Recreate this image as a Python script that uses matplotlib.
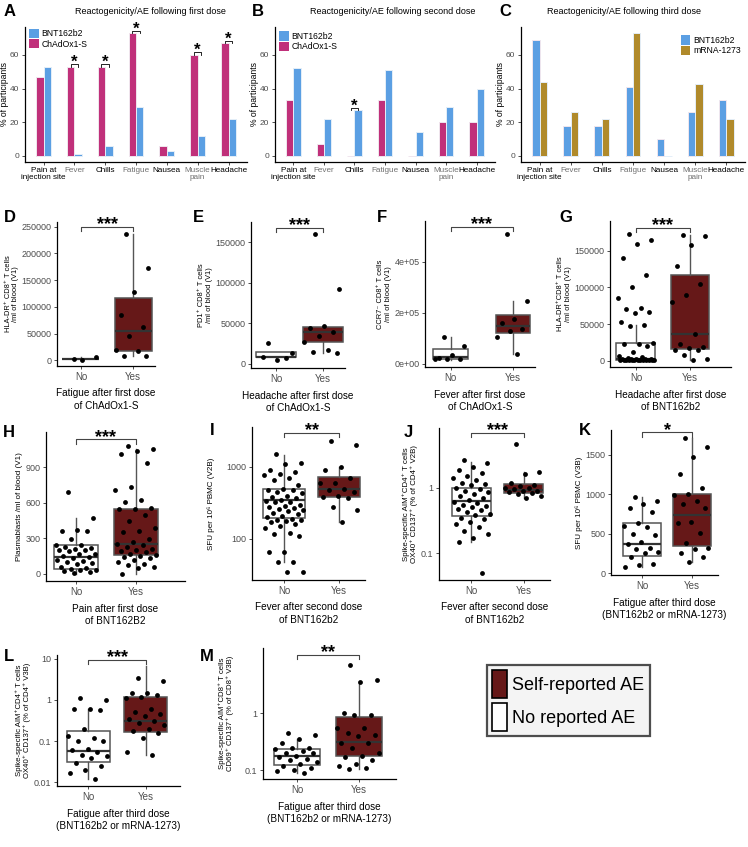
import numpy as np
import matplotlib.pyplot as plt
from matplotlib.patches import Patch

W, H = 748, 847

# ---- top row: reactogenicity bars (% of participants) ----
symptoms = ['Pain at\ninjection site', 'Fever', 'Chills', 'Fatigue', 'Nausea', 'Muscle\npain', 'Headache']
dose1_chad = [47, 53, 53, 73, 6, 60, 67]
dose1_bnt = [53, 1, 6, 29, 3, 12, 22]
dose1_sig = [0, 1, 1, 1, 0, 1, 1]
dose2_chad = [33, 7, 0, 33, 0, 20, 20]
dose2_bnt = [52, 22, 27, 51, 14, 29, 40]
dose2_sig = [0, 0, 1, 0, 0, 0, 0]
dose3_bnt = [69, 18, 18, 41, 10, 26, 33]
dose3_mrna = [44, 26, 22, 73, 0, 43, 22]

# ---- box panels: jittered points and box stats [lo, q1, med, q3, hi] ----
d_no = [2000, 7000, 1000]
d_yes = [236000, 173000, 127000, 85000, 62000, 45000, 20000, 18000, 8000, 8000]
d_box = [[1000, 2000, 2500, 3000, 7000], [8000, 18000, 54000, 117000, 236000]]

e_no = [26000, 14000, 5000, 8000, 7500]
e_yes = [160000, 92000, 47000, 44000, 40000, 34000, 27000, 17000, 15000, 13000]
e_box = [[5000, 8000, 8500, 14500, 14500], [13000, 27000, 39000, 46000, 47000]]

f_no = [105000, 70000, 35000, 25000, 20000, 18000, 18000]
f_yes = [510000, 245000, 178000, 160000, 138000, 128000, 107000, 40000]
f_box = [[15000, 18000, 28000, 60000, 105000], [40000, 120000, 148000, 193000, 245000]]

g_no = [173000, 165000, 160000, 141000, 117000, 100000, 86000, 72000, 70000, 67000,
        65000, 53000, 49000, 47000, 24000, 22000, 22000, 20000, 12000, 6000, 5000, 4000,
        2500, 2000, 2000, 1500, 1500, 1200, 1000, 1000, 800, 800, 600, 500, 500, 400,
        300, 300, 200, 100]
g_yes = [172000, 170000, 158000, 129000, 105000, 90000, 80000, 36000, 22000, 18000,
         17000, 15000, 14000, 8000, 2000, 1000]
g_box = [[0, 1000, 2500, 24000, 49000], [1000, 16000, 36000, 117000, 172000]]

h_no = [690, 475, 370, 365, 360, 290, 240, 240, 230, 220, 210, 200, 200, 190, 170,
        170, 150, 140, 130, 120, 110, 100, 90, 80, 60, 50, 40, 30, 30, 20, 10, 5]
h_yes = [1080, 1060, 1040, 1010, 935, 730, 710, 620, 610, 560, 550, 545, 500, 450,
         390, 360, 350, 290, 270, 250, 240, 230, 210, 200, 190, 180, 170, 160, 150,
         140, 130, 120, 100, 80, 70, 60, 50, 0]
h_box = [[0, 40, 145, 240, 475], [0, 160, 250, 545, 1060]]

i_no = [1500, 1150, 1100, 900, 850, 800, 780, 700, 650, 560, 500, 480, 470, 450, 430,
        400, 380, 370, 350, 340, 330, 320, 300, 290, 280, 270, 260, 250, 240, 230, 220,
        210, 200, 190, 185, 180, 175, 170, 160, 150, 140, 120, 115, 110, 65, 65, 48, 48,
        34, 34]
i_yes = [2300, 2050, 1000, 900, 700, 600, 590, 500, 480, 450, 400, 380, 370, 280, 250, 170]
i_box = [[48, 195, 345, 490, 1450], [170, 380, 500, 720, 1000]]

j_no = [2.7, 2.4, 2.1, 1.9, 1.7, 1.5, 1.4, 1.3, 1.2, 1.15, 1.1, 1.0, 0.95, 0.9, 0.85,
        0.8, 0.75, 0.7, 0.65, 0.6, 0.58, 0.55, 0.52, 0.5, 0.48, 0.45, 0.42, 0.4, 0.38,
        0.35, 0.33, 0.3, 0.28, 0.25, 0.22, 0.2, 0.17, 0.15, 0.05]
j_yes = [4.6, 1.75, 1.65, 1.2, 1.1, 1.05, 1.0, 0.98, 0.95, 0.9, 0.88, 0.85, 0.82, 0.8, 0.75, 0.7]
j_box = [[0.15, 0.37, 0.62, 0.98, 2.5], [0.7, 0.83, 0.93, 1.15, 1.75]]

k_no = [960, 920, 880, 830, 780, 640, 600, 580, 500, 480, 400, 370, 320, 300, 270,
        250, 200, 120, 100, 80]
k_yes = [1710, 1600, 1470, 1260, 1080, 1000, 990, 910, 880, 820, 650, 630, 510, 380,
         320, 300, 250, 200, 140]
k_box = [[80, 220, 370, 630, 960], [140, 340, 740, 1010, 1710]]

l_no = [1.1, 1.0, 0.6, 0.6, 0.58, 0.2, 0.13, 0.12, 0.1, 0.1, 0.065, 0.06, 0.055, 0.045,
        0.044, 0.04, 0.03, 0.025, 0.02, 0.017, 0.012]
l_yes = [3.4, 2.9, 1.5, 1.45, 1.3, 1.15, 1.1, 0.6, 0.5, 0.45, 0.4, 0.35, 0.3, 0.28,
         0.25, 0.2, 0.18, 0.16, 0.12, 0.055, 0.045]
l_box = [[0.012, 0.032, 0.058, 0.18, 0.6], [0.045, 0.17, 0.3, 1.2, 6.5]]

m_no = [0.45, 0.42, 0.35, 0.3, 0.25, 0.25, 0.24, 0.22, 0.2, 0.2, 0.18, 0.17, 0.16,
        0.15, 0.14, 0.13, 0.12, 0.11, 0.1, 0.095, 0.09]
m_yes = [7.0, 3.8, 3.6, 1.0, 0.95, 0.95, 0.55, 0.55, 0.45, 0.42, 0.4, 0.3, 0.3, 0.25,
         0.2, 0.18, 0.17, 0.15, 0.13, 0.12, 0.11, 0.105]
m_box = [[0.09, 0.125, 0.175, 0.24, 0.35], [0.105, 0.18, 0.31, 0.85, 3.6]]

MAG = '#C0307A'
BLUE = '#5B9FE3'
GOLD = '#B08A2B'
AE_RED = '#661818'
TICKC = '#4D4D4D'

plt.rcParams['font.family'] = ['Liberation Sans', 'DejaVu Sans']

fig = plt.figure(figsize=(W / 100, H / 100), dpi=100)


def px_axes(l, t, r, b):
    return fig.add_axes([l / W, 1 - b / H, (r - l) / W, (b - t) / H])


def letter(x, y, s):
    fig.text(x / W, 1 - y / H, s, fontsize=12, fontweight='bold', va='center', ha='left')


def classic(ax, size=6.5):
    for s in ['top', 'right']:
        ax.spines[s].set_visible(False)
    for s in ['left', 'bottom']:
        ax.spines[s].set_linewidth(0.9)
    ax.tick_params(labelsize=size, colors=TICKC, length=2.5, width=0.7, pad=1.5)


def bar_panel(ax, left, right, lcol, rcol, sig, title, tx, labels, leg_loc, leg_anchor):
    x = np.arange(1, 8)
    bw = 0.24
    ax.bar(x - bw / 2, left, bw, color=lcol, edgecolor='#F0E6EE', linewidth=0.7, zorder=2)
    ax.bar(x + bw / 2, right, bw, color=rcol, edgecolor='#E4EEF8', linewidth=0.7, zorder=2)
    for i, s in enumerate(sig):
        if s:
            top = max(left[i], right[i])
            y0 = top + 1.5
            ax.plot([x[i] - bw / 2, x[i] - bw / 2, x[i] + bw / 2, x[i] + bw / 2],
                    [y0 - 1.5, y0, y0, y0 - 1.5], color='black', lw=0.6)
            ax.text(x[i], y0 - 3.4, '*', ha='center', va='bottom', fontsize=12, fontweight='bold')
    ax.set_xlim(0.4, 7.6)
    ax.set_ylim(-3.65, 76.65)
    ax.set_yticks([0, 20, 40, 60])
    ax.set_xticks(x)
    ax.set_xticklabels(symptoms, fontsize=5.9, linespacing=0.95)
    ax.tick_params(axis='x', pad=1)
    cols = ['black', '#707070', 'black', '#707070', 'black', '#707070', 'black']
    for t, c in zip(ax.get_xticklabels(), cols):
        t.set_color(c)
    ax.set_ylabel('% of participants', fontsize=6.2, labelpad=0.5)
    fig.text(tx / W, 1 - 11 / H, title, fontsize=6.5, ha='center', va='center')
    handles = [Patch(facecolor=c, edgecolor='none') for c, _ in labels]
    ax.legend(handles, [n for _, n in labels], loc=leg_loc, bbox_to_anchor=leg_anchor,
              frameon=False, fontsize=6.2, handlelength=1.1, handleheight=1.3,
              handletextpad=0.3, labelspacing=0.1, borderaxespad=0.1)


def box_panel(cfg):
    ax = px_axes(*cfg['pos'])
    classic(ax)
    w = cfg['width']
    stats = []
    for b in cfg['box']:
        stats.append(dict(whislo=b[0], q1=b[1], med=b[2], q3=b[3], whishi=b[4]))
    bp = ax.bxp(stats, positions=[1, 2], widths=w, patch_artist=True, showfliers=False,
                showcaps=False,
                boxprops=dict(edgecolor='#555555', linewidth=1.1),
                medianprops=dict(color='#333333', linewidth=1.6),
                whiskerprops=dict(color='#555555', linewidth=1.0))
    bp['boxes'][0].set_facecolor('white')
    bp['boxes'][1].set_facecolor(AE_RED)
    for k, vals in enumerate([cfg['no'], cfg['yes']]):
        n = len(vals)
        offs = ((np.arange(n) * 0.618034 + 0.3) % 1 - 0.5) * w * 0.95
        ax.scatter(k + 1 + offs, vals, s=12, color='black', zorder=4, linewidths=0)
    if cfg.get('log'):
        ax.set_yscale('log')
        ax.minorticks_off()
    ax.set_ylim(*cfg['ylim'])
    ax.set_xlim(*cfg['xlim'])
    ax.set_yticks(cfg['yticks'])
    ax.set_yticklabels(cfg['ylabels'])
    ax.set_xticks([1, 2])
    ax.set_xticklabels(['No', 'Yes'], fontsize=7)
    ax.set_ylabel(cfg['ylabel'], fontsize=cfg.get('yfs', 5.4), linespacing=1.1,
                  labelpad=cfg.get('ypad', 2))
    ax.set_xlabel(cfg['xlabel'], fontsize=7.2, linespacing=1.3, labelpad=cfg.get('xpad', 5))
    yb = cfg.get('br', 0.96)
    tr = ax.get_xaxis_transform()
    ax.plot([1, 1, 2, 2], [yb - 0.03, yb, yb, yb - 0.03], color='#444444', lw=0.8,
            transform=tr, clip_on=False)
    ax.text(1.5, yb - 0.045, cfg['sig'], transform=tr, ha='center', va='bottom',
            fontsize=13, fontweight='bold', clip_on=False)
    letter(cfg['lx'], cfg['ly'], cfg['letter'])
    return ax


# top row
axA = px_axes(25, 27, 247, 162)
classic(axA, 6)
bar_panel(axA, dose1_chad, dose1_bnt, MAG, BLUE, dose1_sig,
          'Reactogenicity/AE following first dose', 150,
          [(BLUE, 'BNT162b2'), (MAG, 'ChAdOx1-S')], 'upper left', (0.0, 1.02))
axB = px_axes(275, 27, 495, 162)
classic(axB, 6)
bar_panel(axB, dose2_chad, dose2_bnt, MAG, BLUE, dose2_sig,
          'Reactogenicity/AE following second dose', 393,
          [(BLUE, 'BNT162b2'), (MAG, 'ChAdOx1-S')], 'upper left', (0.0, 1.0))
axC = px_axes(521, 27, 745, 162)
classic(axC, 6)
bar_panel(axC, dose3_bnt, dose3_mrna, BLUE, GOLD, [0] * 7,
          'Reactogenicity/AE following third dose', 624,
          [(BLUE, 'BNT162b2'), (GOLD, 'mRNA-1273')], 'upper right', (1.0, 0.97))
letter(4, 12, 'A')
letter(252, 12, 'B')
letter(499, 12, 'C')

lab_ad = 'Fatigue after third dose\n(BNT162b2 or mRNA-1273)'
panels = [
    dict(letter='D', lx=4, ly=217, pos=(57, 222, 155, 366), no=d_no, yes=d_yes, box=d_box,
         ylim=(-10600, 258800), yticks=[0, 50000, 100000, 150000, 200000, 250000],
         ylabels=['0', '50000', '100000', '150000', '200000', '250000'],
         xlim=(0.54, 2.42), width=0.71, sig='***', br=0.965, ypad=1.5,
         ylabel='HLA-DR⁺ CD8⁺ T cells\n/ml of blood (V1)',
         xlabel='Fatigue after first dose\nof ChAdOx1-S'),
    dict(letter='E', lx=193, ly=218, pos=(251, 222, 345, 368), no=e_no, yes=e_yes, box=e_box,
         ylim=(-5000, 175000), yticks=[0, 50000, 100000, 150000],
         ylabels=['0', '50000', '100000', '150000'],
         xlim=(0.47, 2.47), width=0.85, sig='***', br=0.96,
         ylabel='PD1⁺ CD8⁺ T cells\n/ml of blood (V1)',
         xlabel='Headache after first dose\nof ChAdOx1-S'),
    dict(letter='F', lx=377, ly=218, pos=(425, 221, 535, 367), no=f_no, yes=f_yes, box=f_box,
         ylim=(-11800, 560000), yticks=[0, 200000, 400000],
         ylabels=['0e+00', '2e+05', '4e+05'],
         xlim=(0.59, 2.35), width=0.55, sig='***', br=0.96,
         ylabel='CCR7⁻ CD8⁺ T cells\n/ml of blood (V1)',
         xlabel='Fever after first dose\nof ChAdOx1-S'),
    dict(letter='G', lx=559, ly=218, pos=(610, 221, 731, 367), no=g_no, yes=g_yes, box=g_box,
         ylim=(-8800, 191000), yticks=[0, 50000, 100000, 150000],
         ylabels=['0', '50000', '100000', '150000'],
         xlim=(0.52, 2.76), width=0.72, sig='***', br=0.955,
         ylabel='HLA-DR⁺CD8⁺ T cells\n/ml of blood (V1)',
         xlabel='Headache after first dose\nof BNT162b2'),
    dict(letter='H', lx=3, ly=432, pos=(46, 432, 185, 581), no=h_no, yes=h_yes, box=h_box,
         ylim=(-62, 1200), yticks=[0, 300, 600, 900], ylabels=['0', '300', '600', '900'],
         xlim=(0.5, 2.82), width=0.73, sig='***', br=0.951, yfs=5.8,
         ylabel='Plasmablasts /ml of blood (V1)',
         xlabel='Pain after first dose\nof BNT162B2'),
    dict(letter='I', lx=210, ly=430, pos=(252, 427, 365, 580), no=i_no, yes=i_yes, box=i_box,
         log=True, ylim=(26.7, 3594), yticks=[100, 1000], ylabels=['100', '1000'],
         xlim=(0.42, 2.47), width=0.76, sig='**', br=0.963, yfs=5.8, ypad=8,
         ylabel='SFU per 10⁶ PBMC (V2B)',
         xlabel='Fever after second dose\nof BNT162b2'),
    dict(letter='J', lx=404, ly=432, pos=(439, 428, 550, 580), no=j_no, yes=j_yes, box=j_box,
         log=True, ylim=(0.039, 8.2), yticks=[0.1, 1], ylabels=['0.1', '1'],
         xlim=(0.38, 2.5), width=0.75, sig='***', br=0.969, yfs=5.7,
         ylabel='Spike-specific AIM⁺CD4⁺ T cells\nOX40⁺ CD137⁺ (% of CD4⁺ V2B)',
         xlabel='Fever after second dose\nof BNT162b2'),
    dict(letter='K', lx=579, ly=430, pos=(611, 430, 718, 575), no=k_no, yes=k_yes, box=k_box,
         ylim=(-25, 1817), yticks=[0, 500, 1000, 1500], ylabels=['0', '500', '1000', '1500'],
         xlim=(0.38, 2.52), width=0.76, sig='*', br=0.984, yfs=5.8,
         ylabel='SFU per 10⁶ PBMC (V3B)', xlabel=lab_ad),
    dict(letter='L', lx=4, ly=656, pos=(57, 655, 180, 786), no=l_no, yes=l_yes, box=l_box,
         log=True, ylim=(0.0082, 12.2), yticks=[0.01, 0.1, 1, 10],
         ylabels=['0.01', '0.1', '1', '10'],
         xlim=(0.45, 2.6), width=0.75, sig='***', br=0.96, xpad=5, yfs=5.6,
         ylabel='Spike-specific AIM⁺CD4⁺ T cells\nOX40⁺ CD137⁺ (% of CD4⁺ V3B)', xlabel=lab_ad),
    dict(letter='M', lx=200, ly=656, pos=(263, 648, 396, 779), no=m_no, yes=m_yes, box=m_box,
         log=True, ylim=(0.07, 14), yticks=[0.1, 1], ylabels=['0.1', '1'],
         xlim=(0.45, 2.6), width=0.75, sig='**', br=0.946, xpad=5, yfs=5.6, ypad=8,
         ylabel='Spike-specific AIM⁺CD8⁺ T cells\nCD69⁺ CD137⁺ (% of CD8⁺ V3B)', xlabel=lab_ad),
]

for cfg in panels:
    box_panel(cfg)

handles = [Patch(facecolor=AE_RED, edgecolor='black', linewidth=1.2),
           Patch(facecolor='white', edgecolor='black', linewidth=1.2)]
leg = fig.legend(handles, ['Self-reported AE', 'No reported AE'], loc='upper left',
                 bbox_to_anchor=(487 / W, 1 - 665 / H), frameon=True,
                 fancybox=False, edgecolor='#222222', facecolor='#F2F2F2',
                 handlelength=0.8, handleheight=2.0, handletextpad=0.3,
                 labelspacing=0.25, borderpad=0.3, borderaxespad=0,
                 prop={'size': 13})
leg.get_frame().set_linewidth(1.6)

fig.savefig('out.png', dpi=100)
